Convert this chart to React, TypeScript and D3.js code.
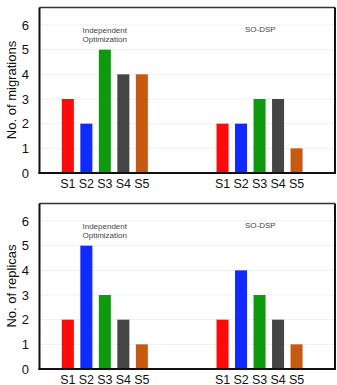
import React from "react";
import * as d3 from "d3";

const groups = ["Independent Optimization", "SO-DSP"];
const series = ["S1", "S2", "S3", "S4", "S5"];
const colors = ["#ff0a0a", "#1029ff", "#0e9a0e", "#454545", "#c65a12"];
const yTicks = [0, 1, 2, 3, 4, 5, 6];

const migrationsIndependent = [3, 2, 5, 4, 4];
const migrationsSODSP = [2, 2, 3, 3, 1];
const replicasIndependent = [2, 5, 3, 2, 1];
const replicasSODSP = [2, 4, 3, 2, 1];

const panelTitles = ["No. of migrations", "No. of replicas"];

const W = 337;
const H = 385;
const FONT = "Liberation Sans, Arial, sans-serif";

type PanelProps = { top: number; title: string; data: number[][] };

function Panel({ top, title, data }: PanelProps) {
  const left = 39.5;
  const right = 335;
  const boxTop = top + 7.5;
  const y = d3.scaleLinear().domain([0, 6]).range([top + 173, top + 25]);
  const outer = d3.scaleBand<string>().domain(groups).range([27.5, 336.9]).padding(0);
  const bw = outer.bandwidth();
  return (
    <g>
      {yTicks.map((t) => (
        <line key={"g" + t} x1={left} x2={right} y1={y(t)} y2={y(t)} stroke="#efefef" strokeWidth={1} />
      ))}
      {groups.map((g, gi) => {
        const c = (outer(g) as number) + bw / 2;
        const inner = d3
          .scaleBand<string>()
          .domain(series)
          .range([c - 46.25, c + 46.25])
          .paddingInner(0.35)
          .paddingOuter(0.175);
        return (
          <g key={g}>
            {series.map((s, si) => (
              <rect
                key={s}
                x={inner(s)}
                y={y(data[gi][si])}
                width={inner.bandwidth()}
                height={y(0) - y(data[gi][si])}
                fill={colors[si]}
              />
            ))}
            {series.map((s) => (
              <text
                key={"l" + s}
                x={(inner(s) as number) + inner.bandwidth() / 2}
                y={y(0) + 14.5}
                textAnchor="middle"
                fontSize={12.5}
                fontFamily={FONT}
                fill="#111"
              >
                {s}
              </text>
            ))}
          </g>
        );
      })}
      <text x={82.5} y={top + 32.5} fontSize={8} fontFamily={FONT} fill="#444">
        Independent
      </text>
      <text x={82.5} y={top + 42} fontSize={8} fontFamily={FONT} fill="#444">
        Optimization
      </text>
      <text x={245} y={top + 32} fontSize={8} fontFamily={FONT} fill="#444">
        SO-DSP
      </text>
      <line x1={left} x2={right} y1={boxTop} y2={boxTop} stroke="#333" strokeWidth={1.5} />
      <line x1={right} x2={right} y1={boxTop} y2={y(0)} stroke="#111" strokeWidth={2} />
      <line x1={left} x2={left} y1={boxTop} y2={y(0) + 1} stroke="#111" strokeWidth={2} />
      <line x1={left - 1} x2={right + 1} y1={y(0)} y2={y(0)} stroke="#111" strokeWidth={2} />
      {yTicks.map((t) => (
        <text
          key={"t" + t}
          x={29}
          y={y(t) + 4.5}
          textAnchor="end"
          fontSize={13}
          fontFamily={FONT}
          fill="#111"
        >
          {t}
        </text>
      ))}
      <text
        transform={`translate(16, ${top + 90}) rotate(-90)`}
        textAnchor="middle"
        fontSize={13}
        fontFamily={FONT}
        fill="#111"
      >
        {title}
      </text>
    </g>
  );
}

export default function App() {
  return (
    <div style={{ position: "absolute", left: 0, top: 0 }}>
      <svg width={W} height={H} style={{ display: "block", background: "#fff" }}>
        <Panel top={0} title={panelTitles[0]} data={[migrationsIndependent, migrationsSODSP]} />
        <Panel top={196} title={panelTitles[1]} data={[replicasIndependent, replicasSODSP]} />
      </svg>
    </div>
  );
}
